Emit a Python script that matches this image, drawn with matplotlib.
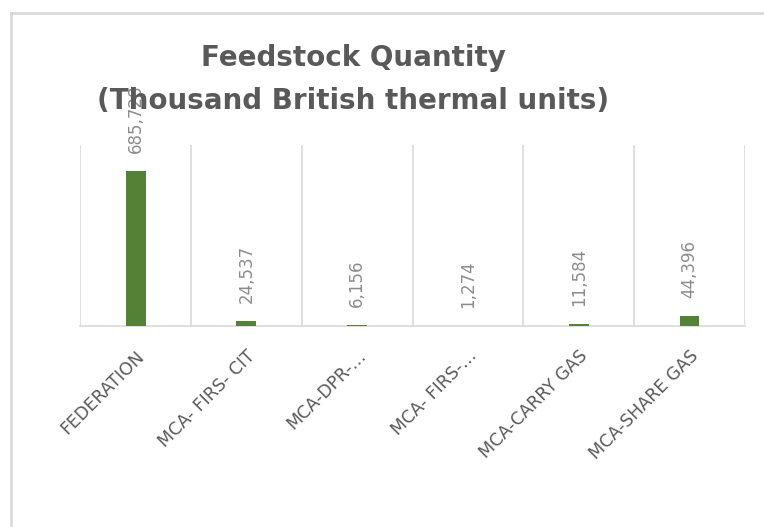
import matplotlib.pyplot as plt
from matplotlib.lines import Line2D

# chart data
categories = ["FEDERATION", "MCA- FIRS- CIT", "MCA-DPR-…", "MCA- FIRS-…",
              "MCA-CARRY GAS", "MCA-SHARE GAS"]
values = [685728, 24537, 6156, 1274, 11584, 44396]
value_labels = ["685,728", "24,537", "6,156", "1,274", "11,584", "44,396"]

fig = plt.figure(figsize=(7.64, 5.27), dpi=100)
ax = fig.add_axes([0.105, 0.381, 0.870, 0.344])

x = list(range(len(categories)))
ax.bar(x, values, width=0.18, color="#538135", zorder=3)

# data labels above bars, rotated
for xi, v, lab in zip(x, values, value_labels):
    ax.annotate(lab, (xi, v), xytext=(0, 13), textcoords="offset points",
                rotation=90, ha="center", va="bottom", fontsize=12,
                color="#8c8c8c")

ax.set_xlim(-0.5, len(categories) - 0.5)
ax.set_ylim(0, 800000)
ax.set_yticks([])

# vertical gridlines between categories
for b in range(len(categories) + 1):
    ax.axvline(b - 0.5, color="#d9d9d9", lw=1.2, zorder=1)

for s in ["top", "right", "left"]:
    ax.spines[s].set_visible(False)
ax.spines["bottom"].set_color("#d9d9d9")
ax.spines["bottom"].set_linewidth(1.2)

ax.set_xticks(x)
ax.set_xticklabels(categories, rotation=45, ha="right", rotation_mode="anchor",
                   fontsize=12.5, color="#595959")
ax.tick_params(axis="x", length=0, pad=15)

fig.text(0.462, 0.89, "Feedstock Quantity", ha="center", va="center",
         fontsize=20, fontweight="bold", color="#595959")
fig.text(0.462, 0.808, "(Thousand British thermal units)", ha="center",
         va="center", fontsize=20, fontweight="bold", color="#595959")

# chart area border (left and top edges visible)
fig.add_artist(Line2D([0.014, 0.014], [0, 0.975], transform=fig.transFigure,
                      color="#d9d9d9", lw=2))
fig.add_artist(Line2D([0.014, 1.0], [0.975, 0.975], transform=fig.transFigure,
                      color="#d9d9d9", lw=2))

fig.savefig("out.png", dpi=100)
